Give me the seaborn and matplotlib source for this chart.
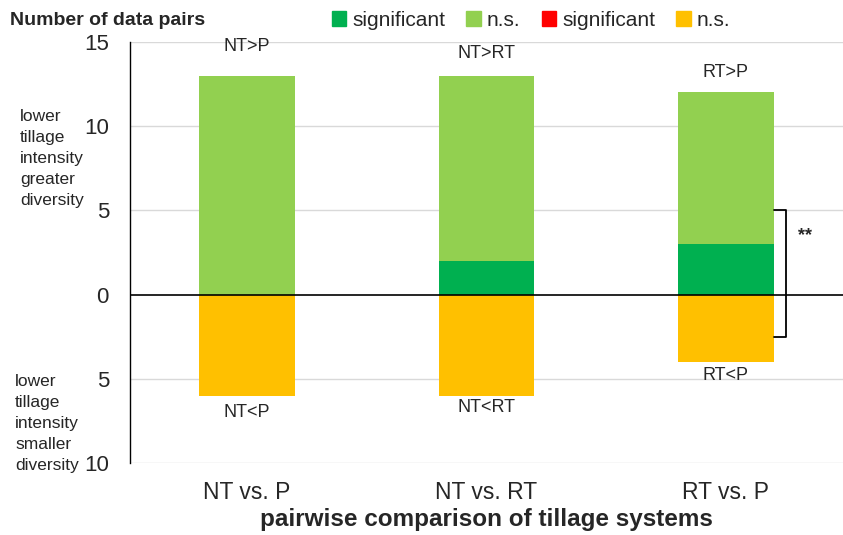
import matplotlib
matplotlib.use("Agg")
import matplotlib.pyplot as plt
import seaborn as sns
import pandas as pd
from matplotlib.patches import Patch

sns.set_theme(style="white")
plt.rcParams['font.family'] = ['Liberation Sans', 'DejaVu Sans']

categories = ["NT vs. P", "NT vs. RT", "RT vs. P"]
pos_sig = [0, 2, 3]
pos_ns = [13, 11, 9]
neg_sig = [0, 0, 0]
neg_ns = [-6, -6, -4]
upper_labels = ["NT>P", "NT>RT", "RT>P"]
lower_labels = ["NT<P", "NT<RT", "RT<P"]
upper_y = [14.7, 14.3, 13.2]
lower_y = [-7.0, -6.7, -4.8]
yticks = [-10, -5, 0, 5, 10, 15]
ytick_labels = ["10", "5", "0", "5", "10", "15"]

c_sig_pos = "#00B050"
c_ns_pos = "#92D050"
c_sig_neg = "#FF0000"
c_ns_neg = "#FFC000"

df = pd.DataFrame({
    "cat": categories,
    "pos_total": [s + n for s, n in zip(pos_sig, pos_ns)],
    "pos_sig": pos_sig,
    "neg_ns": neg_ns,
})

fig = plt.figure(figsize=(8.43, 5.35), dpi=100)
ax = fig.add_axes([0.154, 0.1346, 0.846, 0.787])

w = 0.4
kw = dict(width=w, saturation=1, ax=ax, linewidth=0, edgecolor="none")
sns.barplot(data=df, x="cat", y="pos_total", color=c_ns_pos, zorder=2, **kw)
sns.barplot(data=df, x="cat", y="pos_sig", color=c_sig_pos, zorder=3, **kw)
sns.barplot(data=df, x="cat", y="neg_ns", color=c_ns_neg, zorder=2, **kw)

ax.set_xlim(-0.49, 2.49)
ax.set_ylim(-10, 15)
ax.set_yticks(yticks)
ax.set_yticklabels(ytick_labels, fontsize=16)
ax.tick_params(axis="x", labelsize=16.5, length=0, pad=13)
ax.tick_params(axis="y", length=0, pad=15)
for yv in [-10, -5, 5, 10, 15]:
    ax.axhline(yv, color="#d9d9d9", lw=1, zorder=0)
ax.axhline(0, color="black", lw=1.2, zorder=4)
for s in ["top", "right", "bottom"]:
    ax.spines[s].set_visible(False)
ax.spines["left"].set_color("black")
ax.spines["left"].set_linewidth(1)

ax.set_xlabel("pairwise comparison of tillage systems", fontsize=17.5,
              fontweight="bold", labelpad=3)
ax.set_ylabel("")

for i in range(3):
    ax.text(i, upper_y[i], upper_labels[i], ha="center", va="center", fontsize=13)
    ax.text(i, lower_y[i], lower_labels[i], ha="center", va="center", fontsize=13)

# bracket
bx = 2.25
ax.plot([bx - 0.05, bx, bx, bx - 0.05], [5, 5, -2.5, -2.5], color="black",
        lw=1.3, zorder=5, clip_on=False)
ax.text(bx + 0.05, 3.5, "**", ha="left", va="center", fontsize=13,
        fontweight="bold")

fig.text(0.012, 0.962, "Number of data pairs", fontsize=14, fontweight="bold",
         ha="left", va="center")
fig.text(0.024, 0.703, "lower\ntillage\nintensity\ngreater\ndiversity",
         fontsize=12.5, ha="left", va="center", linespacing=1.5)
fig.text(0.018, 0.208, "lower\ntillage\nintensity\nsmaller\ndiversity",
         fontsize=12.5, ha="left", va="center", linespacing=1.5)

handles = [Patch(color=c_sig_pos), Patch(color=c_ns_pos),
           Patch(color=c_sig_neg), Patch(color=c_ns_neg)]
labels = ["significant", "n.s.", "significant", "n.s."]
fig.legend(handles, labels, loc="center", bbox_to_anchor=(0.63, 0.962),
           ncol=4, frameon=False, fontsize=15, handlelength=0.7,
           handleheight=0.7, handletextpad=0.3, columnspacing=1.0)

fig.savefig("out.png", dpi=100)
